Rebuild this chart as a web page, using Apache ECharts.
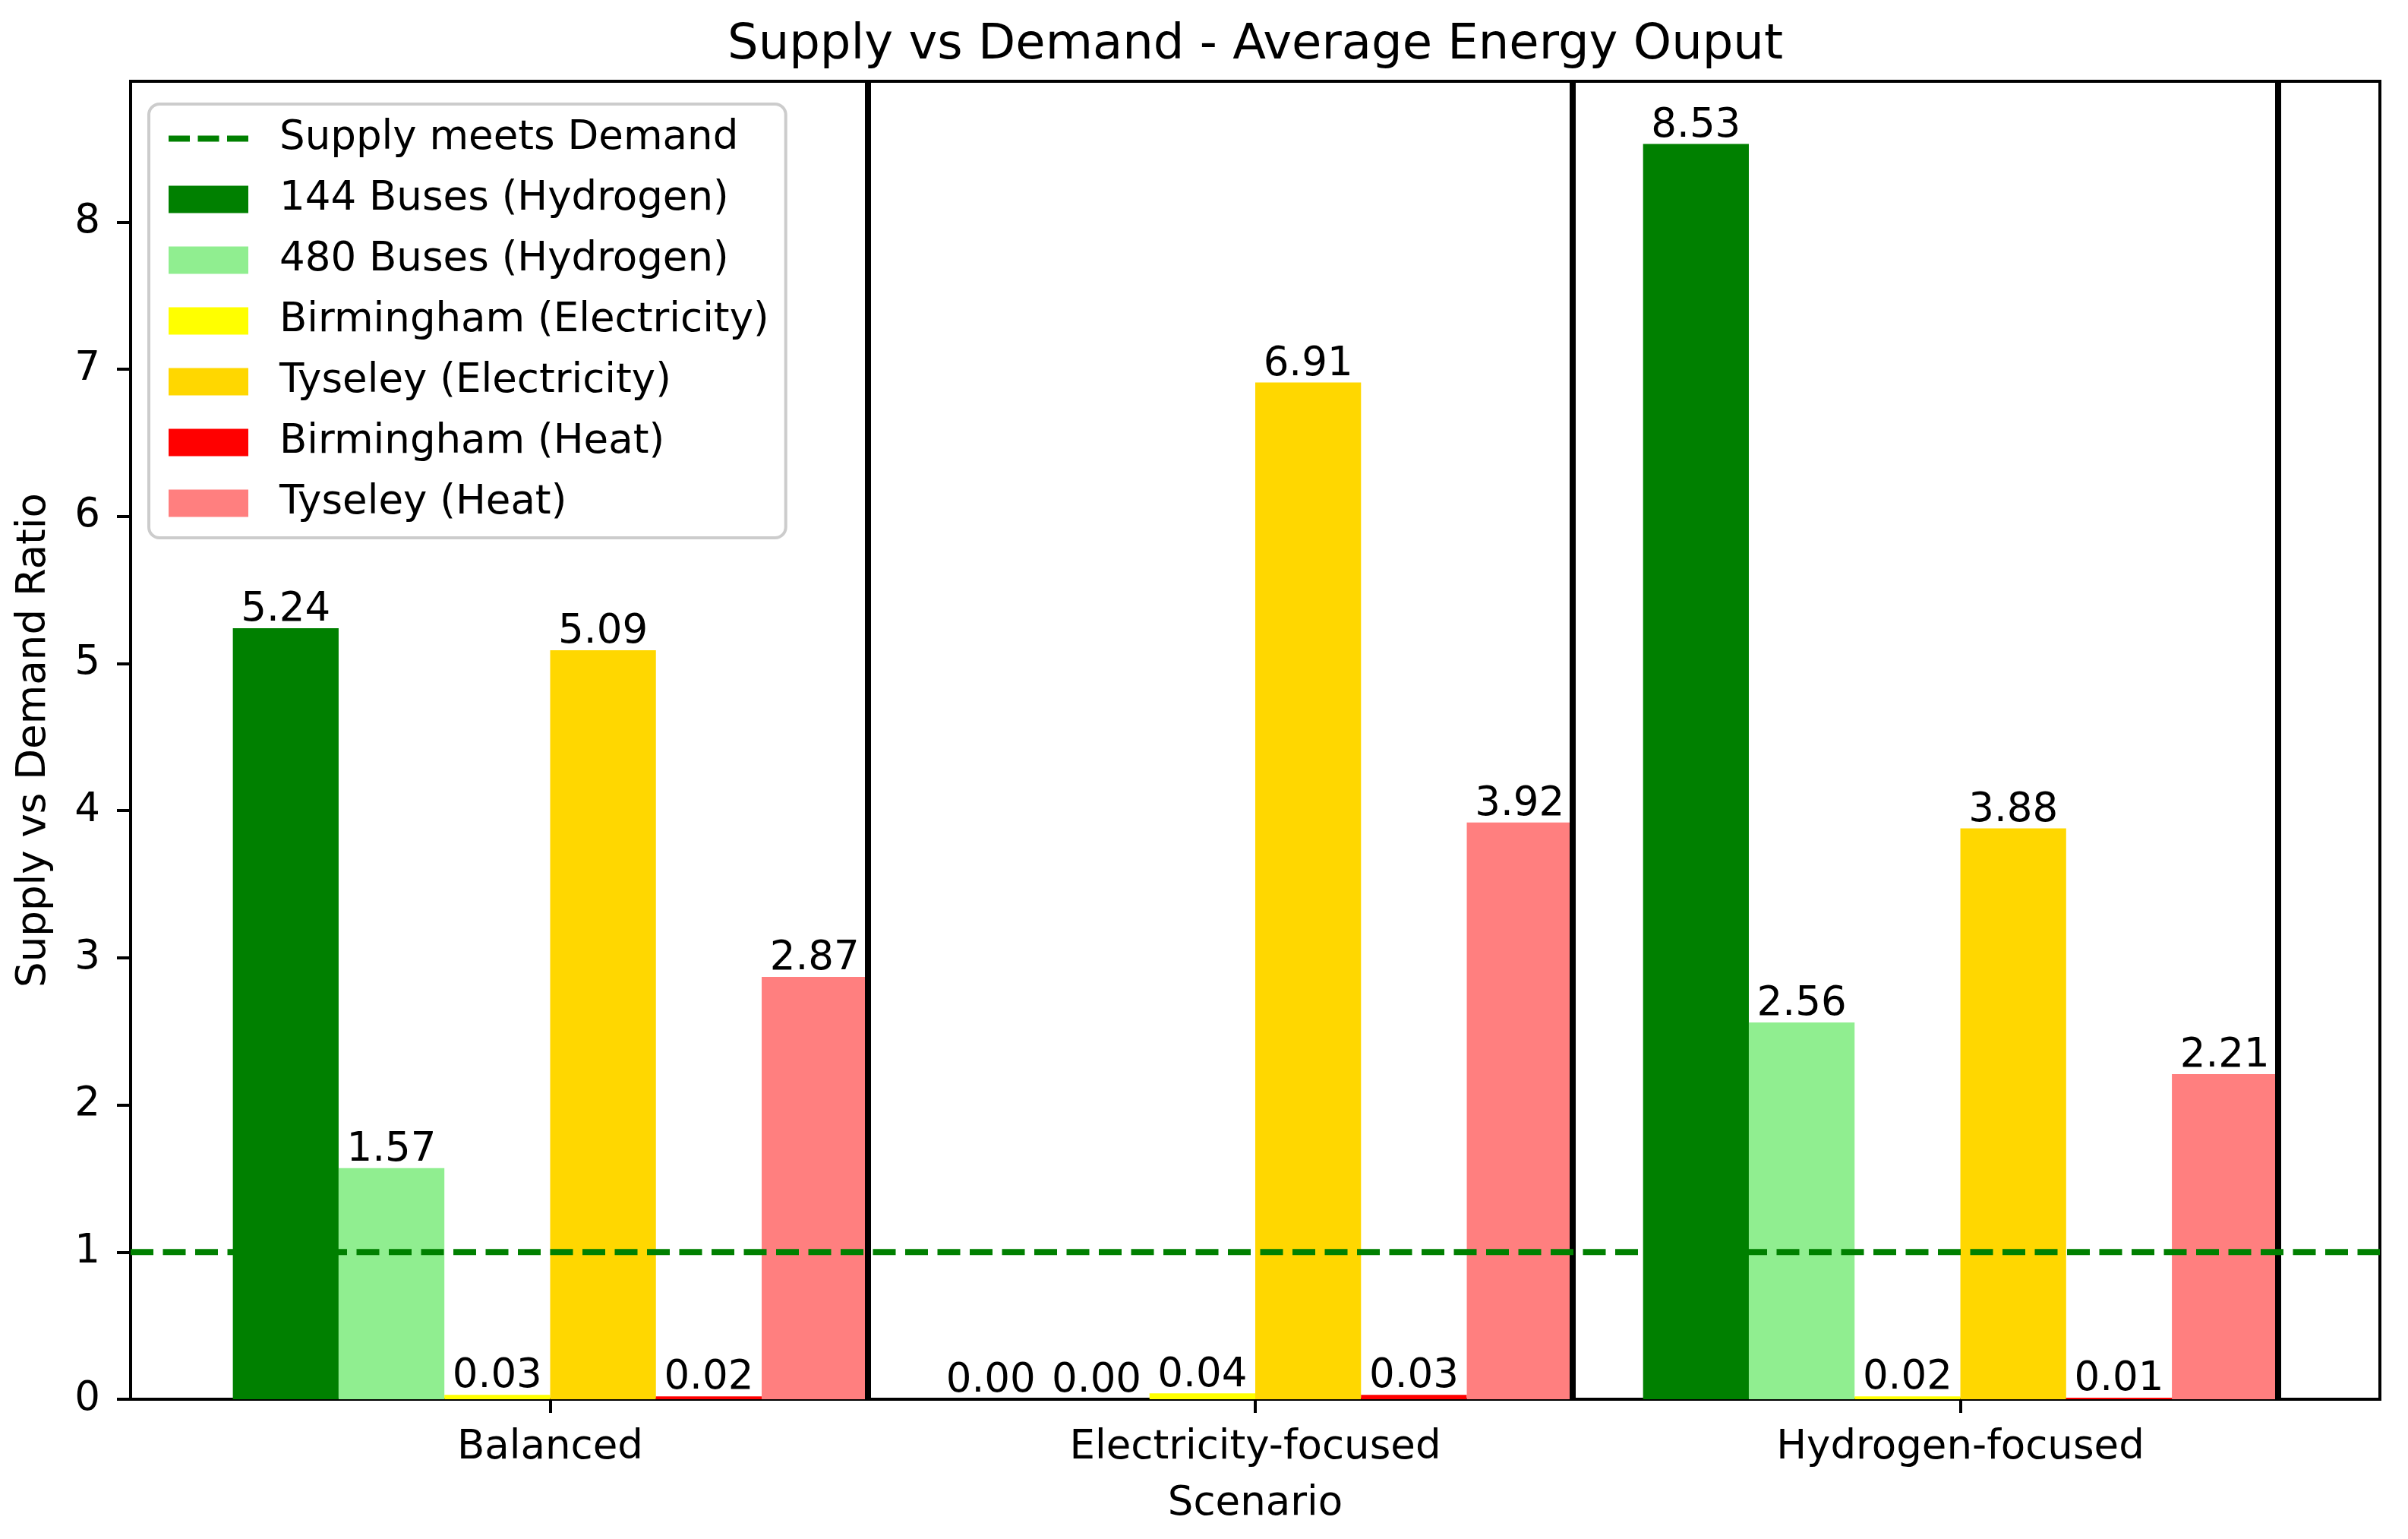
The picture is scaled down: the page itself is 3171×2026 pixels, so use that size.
<!DOCTYPE html>
<html><head><meta charset="utf-8">
<script src="https://cdn.jsdelivr.net/npm/echarts@6/dist/echarts.min.js"></script>
<style>html,body{margin:0;padding:0;background:#fff}#c{width:3171px;height:2026px}</style>
</head><body><div id="c"></div>
<script>
// ---- data ----
const categories = ['Balanced', 'Electricity-focused', 'Hydrogen-focused'];
const seriesNames = ['144 Buses (Hydrogen)', '480 Buses (Hydrogen)', 'Birmingham (Electricity)', 'Tyseley (Electricity)', 'Birmingham (Heat)', 'Tyseley (Heat)'];
const buses144 = [5.24, 0.00, 8.53];
const buses480 = [1.57, 0.00, 2.56];
const birminghamElec = [0.03, 0.04, 0.02];
const tyseleyElec = [5.09, 6.91, 3.88];
const birminghamHeat = [0.02, 0.03, 0.01];
const tyseleyHeat = [2.87, 3.92, 2.21];
const seriesValues = [buses144, buses480, birminghamElec, tyseleyElec, birminghamHeat, tyseleyHeat];
const seriesColors = ['#008000', '#90ee90', '#ffff00', '#ffd700', '#ff0000', '#ff7f7f'];
const yTicks = [0, 1, 2, 3, 4, 5, 6, 7, 8];
const demandLevel = 1;
const lineName = 'Supply meets Demand';
const titleText = 'Supply vs Demand - Average Energy Ouput';

// ---- layout ----
const FONT = 'DejaVu Sans';
const FS = 53, FS_TITLE = 64;
const W = 3171, H = 2026;
const gridL = 172, gridT = 107, gridR = 37, gridB = 184;
const barFrac = 0.15;
const halfGroup = barFrac * seriesNames.length / 2;
const span = (categories.length - 1) + 2 * halfGroup;
const xMin = -halfGroup - 0.05 * span;
const xMax = (categories.length - 1) + halfGroup + 0.05 * span;
const yMax = Math.max(...seriesValues.flat()) * 1.05;
const plotW = W - gridL - gridR;
const barPx = barFrac * plotW / (xMax - xMin);
const separators = categories.map((c, i) => i + halfGroup);
const catIdx = categories.map((c, i) => i);
const dashLine = { color: '#008000', width: 8, type: [30, 12.5] };

const series = seriesNames.map((name, s) => ({
  type: 'bar', name: name,
  data: seriesValues[s].map((v, i) => [i, v]),
  barWidth: barPx, barGap: '0%',
  itemStyle: { color: seriesColors[s] },
  label: {
    show: true, position: 'top', distance: -3,
    formatter: p => p.value[1].toFixed(2),
    fontSize: FS, fontFamily: FONT, color: '#000'
  },
  z: 2
}));
series.push({
  type: 'line', name: lineName,
  data: [[xMin, demandLevel], [xMax, demandLevel]],
  symbol: 'none', silent: true,
  lineStyle: dashLine,
  itemStyle: { color: '#008000' },
  markLine: {
    silent: true, symbol: ['none', 'none'], label: { show: false },
    lineStyle: { color: '#000', width: 8, type: 'solid' },
    emphasis: { disabled: true },
    data: separators.map(x => ({ xAxis: x }))
  },
  z: 5
});

const chart = echarts.init(document.getElementById('c'), null, { renderer: 'canvas' });
chart.setOption({
  animation: false,
  backgroundColor: '#fff',
  title: {
    text: titleText, left: gridL + plotW / 2, top: 28, textAlign: 'center', padding: 0,
    textStyle: { fontSize: FS_TITLE, fontWeight: 'normal', fontFamily: FONT, color: '#000' }
  },
  legend: {
    orient: 'vertical', left: 196, top: 137,
    padding: [19, 22, 19, 22],
    itemWidth: 105, itemHeight: 36, itemGap: 27,
    borderColor: '#cccccc', borderWidth: 4, borderRadius: 14,
    backgroundColor: 'rgba(255,255,255,0.8)',
    textStyle: { fontSize: FS, fontFamily: FONT, color: '#000', lineHeight: 53, padding: [0, 0, 0, 36] },
    data: [{ name: lineName, itemStyle: { opacity: 0 }, lineStyle: { color: '#008000', width: 8, type: [28, 10.5] } }]
      .concat(seriesNames.map(n => ({ name: n, icon: 'rect' })))
  },
  grid: {
    left: gridL, top: gridT, right: gridR, bottom: gridB,
    show: true, borderColor: '#000', borderWidth: 4, backgroundColor: 'transparent',
    outerBoundsMode: 'none', containLabel: false
  },
  xAxis: {
    type: 'value', min: xMin, max: xMax,
    axisLine: { show: true, onZero: false, lineStyle: { color: '#000', width: 4 } },
    axisTick: { show: true, customValues: catIdx, length: 18, lineStyle: { color: '#000', width: 4 } },
    axisLabel: {
      customValues: catIdx, formatter: v => categories[Math.round(v)] || '',
      fontSize: FS, fontFamily: FONT, color: '#000', margin: 38
    },
    splitLine: { show: false },
    name: 'Scenario', nameLocation: 'middle', nameGap: 112,
    nameTextStyle: { fontSize: FS, fontFamily: FONT, color: '#000' }
  },
  yAxis: {
    type: 'value', min: 0, max: yMax,
    axisLine: { show: true, onZero: false, lineStyle: { color: '#000', width: 4 } },
    axisTick: { show: true, customValues: yTicks, length: 18, lineStyle: { color: '#000', width: 4 } },
    axisLabel: { customValues: yTicks, fontSize: FS, fontFamily: FONT, color: '#000', margin: 40 },
    splitLine: { show: false },
    name: 'Supply vs Demand Ratio', nameLocation: 'middle', nameGap: 100, nameRotate: 90,
    nameTextStyle: { fontSize: FS, fontFamily: FONT, color: '#000' }
  },
  series: series
});
</script></body></html>
